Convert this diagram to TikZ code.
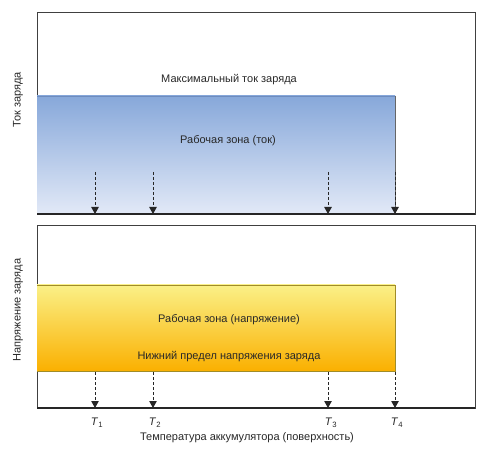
\documentclass[tikz,border=0pt]{standalone}
\usepackage{fontspec}
\setmainfont{Liberation Sans}
\usetikzlibrary{arrows.meta}
\definecolor{bluetop}{RGB}{135,168,218}
\definecolor{bluebot}{RGB}{226,233,247}
\definecolor{bluedge}{RGB}{110,140,190}
\definecolor{yeltop}{RGB}{250,240,135}
\definecolor{yelmid}{RGB}{250,212,60}
\definecolor{yelbot}{RGB}{250,176,0}
\definecolor{yeledge}{RGB}{160,140,40}
\definecolor{txt}{RGB}{40,40,40}
\begin{document}
\begin{tikzpicture}[x=1pt,y=1pt,
  panel/.style={draw=black!75, line width=0.9pt},
  axisline/.style={draw=black!85, line width=1.3pt},
  lbl/.style={inner sep=0pt, text=txt, font=\fontsize{11}{13}\selectfont},
  tarrow/.style={draw=black!85, line width=1pt, dash pattern=on 3pt off 2pt, -{Triangle[width=7.5pt,length=7pt]}}
]
\useasboundingbox (0,0) rectangle (489,455);
% top panel
\draw[panel] (37,241) rectangle (475,443);
\shade[top color=bluetop, bottom color=bluebot] (37,241) rectangle (395,359);
\draw[bluedge, line width=0.9pt] (37,359) -- (395,359);
\draw[black!60, line width=0.6pt] (395,359) -- (395,241);
\draw[axisline] (37,241) -- (475,241);
% bottom panel
\draw[panel] (37,47) rectangle (475,230);
\shade[top color=yeltop, middle color=yelmid, bottom color=yelbot] (37,84) rectangle (395,170);
\draw[yeledge, line width=0.7pt] (37,170) -- (395,170) -- (395,84) -- (37,84);
\draw[axisline] (37,47) -- (475,47);
% coordinates for arrows
\foreach \i/\x in {1/95,2/153,3/328,4/395}{
  \coordinate (ta\i) at (\x,283);
  \coordinate (tb\i) at (\x,241);
  \coordinate (ba\i) at (\x,83);
  \coordinate (bb\i) at (\x,47);
  \draw[tarrow] (ta\i) -- (tb\i);
  \draw[tarrow] (ba\i) -- (bb\i);
}
% labels
\node[lbl] (max) at (229,375) {Максимальный ток заряда};
\node[lbl] (wz1) at (228,314) {Рабочая зона (ток)};
\node[lbl] (wz2) at (229,135) {Рабочая зона (напряжение)};
\node[lbl] (low) at (229,98) {Нижний предел напряжения заряда};
\node[lbl, rotate=90] (ylab1) at (18,355) {Ток заряда};
\node[lbl, rotate=90] (ylab2) at (18,145) {Напряжение заряда};
\node[lbl] (t1) at (97,32) {\textit{T}\textsubscript{1}};
\node[lbl] (t2) at (155,32) {\textit{T}\textsubscript{2}};
\node[lbl] (t3) at (331,32) {\textit{T}\textsubscript{3}};
\node[lbl] (t4) at (397,32) {\textit{T}\textsubscript{4}};
\node[lbl] (xlab) at (247,17) {Температура аккумулятора (поверхность)};
\end{tikzpicture}
\end{document}
